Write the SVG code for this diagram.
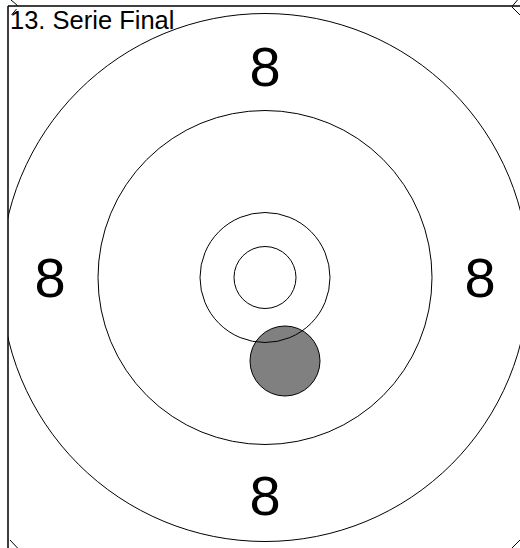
<svg xmlns="http://www.w3.org/2000/svg" width="520" height="548" viewBox="0 0 520 548">
<style>
.ring{fill:none;stroke:#000;stroke-width:1}
.lbl{font-family:"Liberation Sans",Arial,sans-serif;font-size:56px;fill:#000;text-anchor:middle}
.ttl{font-family:"Liberation Sans",Arial,sans-serif;font-size:25.5px;fill:#000}
.frame{stroke:#000;stroke-width:1.5;fill:none}
.tick{stroke:#000;stroke-width:1;fill:none}
</style>
<defs>
<clipPath id="c"><rect x="8" y="0" width="520" height="548"/></clipPath>
</defs>
<rect width="520" height="548" fill="#fff"/>
<g id="shot">
<circle cx="285" cy="361" r="35" fill="#808080" stroke="#000" stroke-width="1"/>
</g>
<g id="frame">
<path class="frame" d="M8 6H520M8 6V548"/>
<path class="tick" d="M11 0L17.5 5.5M16.5 9L11.5 15M512 6.5L517.5 0M512 7L520 15M10 540L17.5 548M512 548L520 540"/>
</g>
<g id="rings" clip-path="url(#c)">
<circle class="ring" cx="265" cy="277.5" r="264"/>
<circle class="ring" cx="265" cy="277.5" r="167"/>
<circle class="ring" cx="265" cy="277.5" r="65"/>
<circle class="ring" cx="265" cy="277.5" r="31"/>
</g>
<g id="labels">
<text class="lbl" x="265" y="86">8</text>
<text class="lbl" x="50" y="297">8</text>
<text class="lbl" x="480" y="297">8</text>
<text class="lbl" x="265" y="515">8</text>
</g>
<g id="title">
<text class="ttl" x="10" y="29">13. Serie Final</text>
</g>
</svg>
